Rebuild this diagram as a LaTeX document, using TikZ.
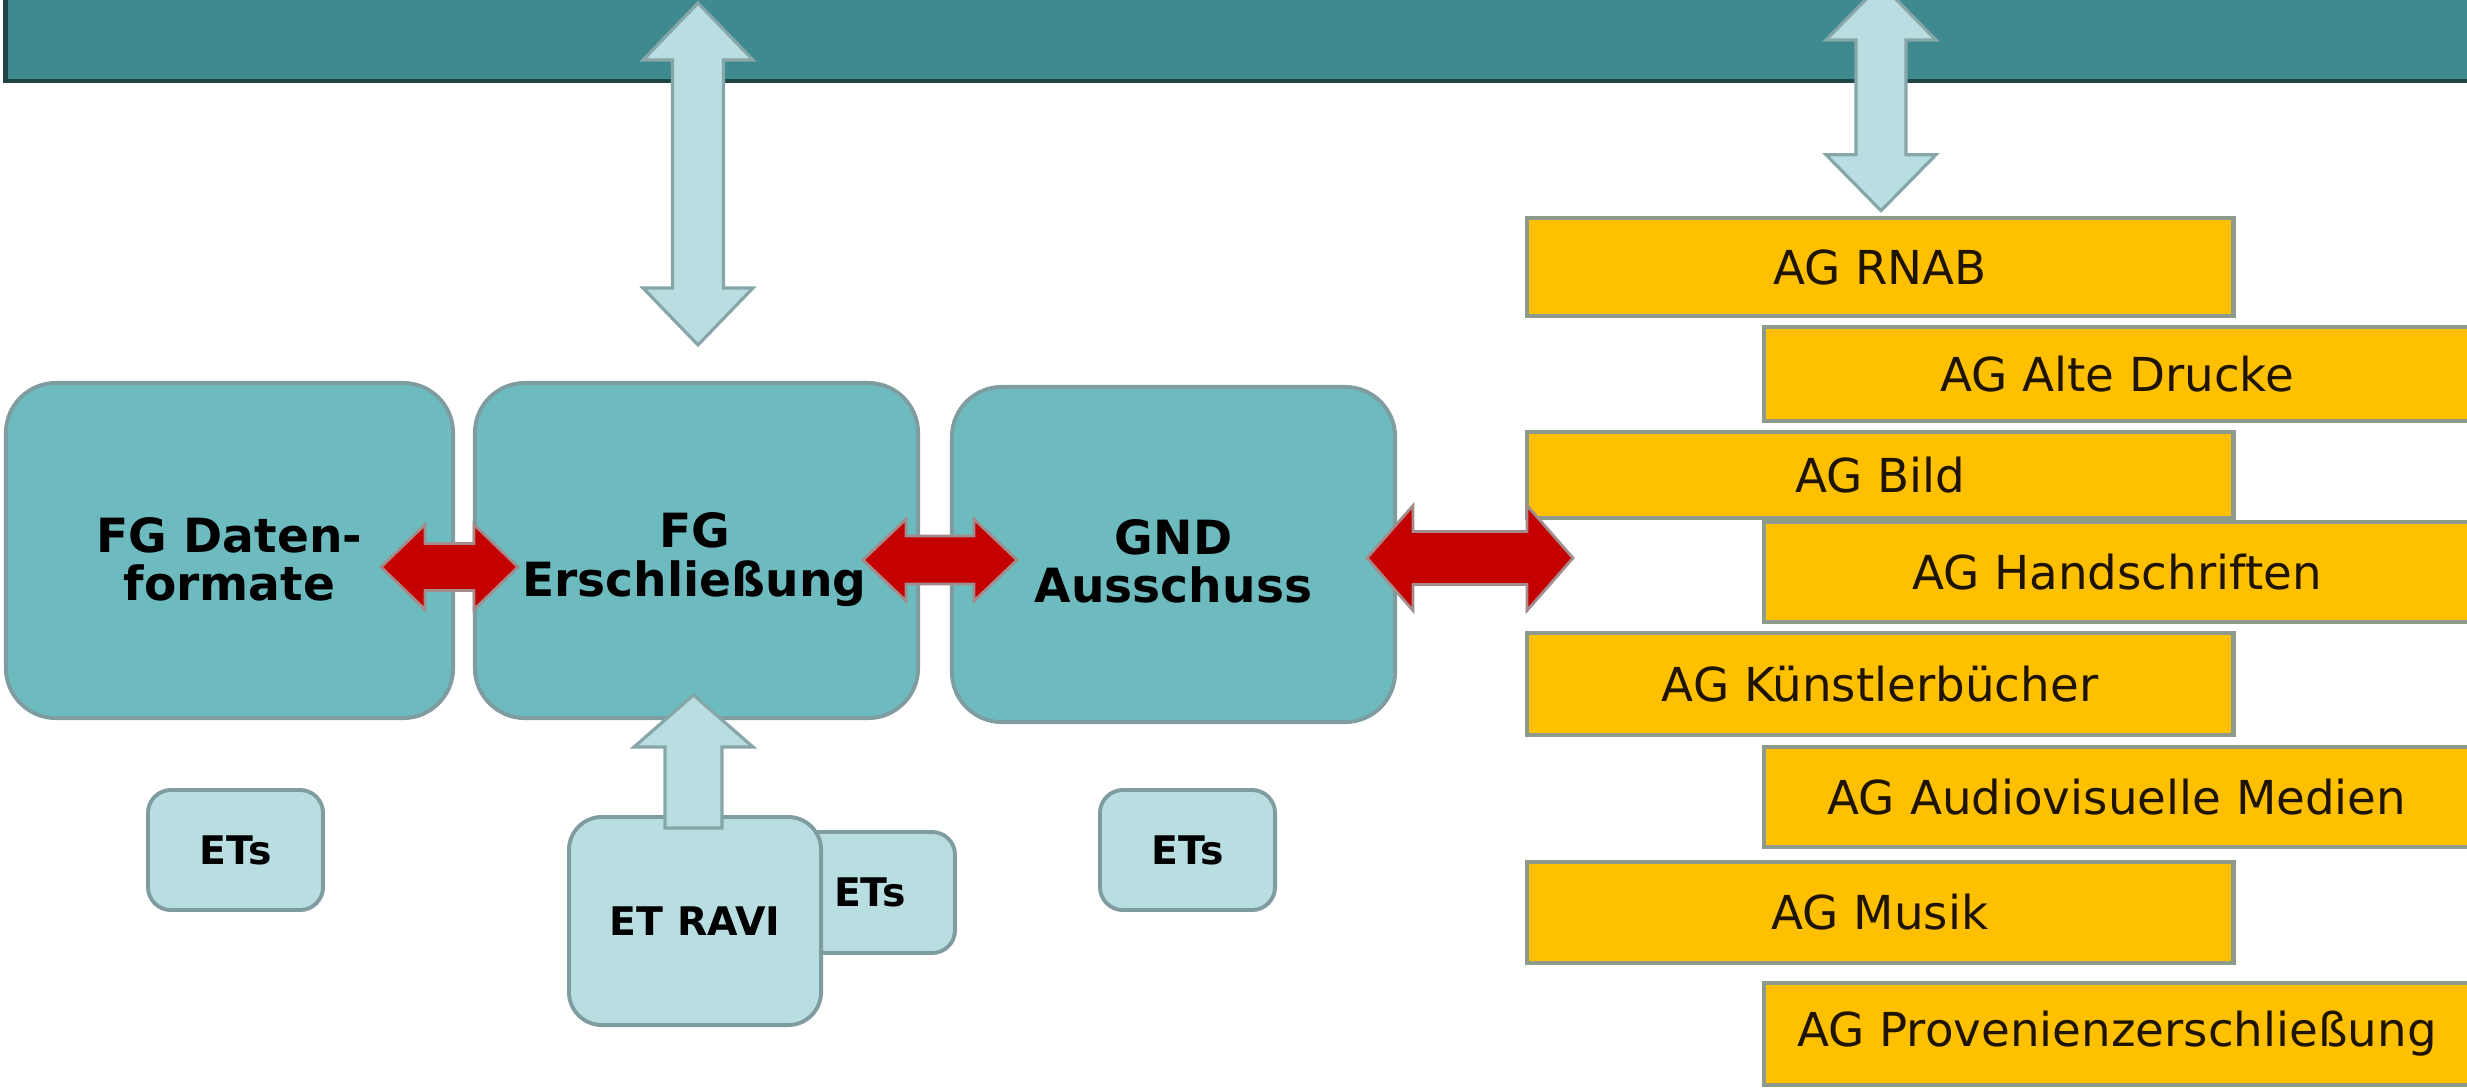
\documentclass[tikz,border=0pt]{standalone}
\usepackage{fontspec}
\setmainfont{DejaVu Sans}
\usetikzlibrary{calc}
\definecolor{bannerfill}{HTML}{3E8A8E}
\definecolor{banneredge}{HTML}{1F4547}
\definecolor{tealfill}{HTML}{6DBBBF}
\definecolor{boxline}{HTML}{7F9DA0}
\definecolor{lightblue}{HTML}{B9DEE2}
\definecolor{lightline}{HTML}{86A6A9}
\definecolor{agyellow}{HTML}{FFC000}
\definecolor{agline}{HTML}{8E9A8A}
\definecolor{agtext}{HTML}{1E1400}
\definecolor{arrred}{HTML}{C40000}
\definecolor{redline}{HTML}{A48C8C}
% horizontal double block arrow: style, left tip, right tip, shaft half, head half, head length
\newcommand\hdarrow[6]{\path[#1] (#2) -- ($(#2)+(#6,-#5)$) -- ($(#2)+(#6,-#4)$) -- ($(#3)+(-#6,-#4)$) -- ($(#3)+(-#6,-#5)$) -- (#3) -- ($(#3)+(-#6,#5)$) -- ($(#3)+(-#6,#4)$) -- ($(#2)+(#6,#4)$) -- ($(#2)+(#6,#5)$) -- cycle;}
% vertical double block arrow: style, top tip, bottom tip, shaft half, head half, head length
\newcommand\vdarrow[6]{\path[#1] (#2) -- ($(#2)+(#5,#6)$) -- ($(#2)+(#4,#6)$) -- ($(#3)+(#4,-#6)$) -- ($(#3)+(#5,-#6)$) -- (#3) -- ($(#3)+(-#5,-#6)$) -- ($(#3)+(-#4,-#6)$) -- ($(#2)+(-#4,#6)$) -- ($(#2)+(-#5,#6)$) -- cycle;}
% single upward block arrow: style, tip, foot, shaft half, head half, head length
\newcommand\upblockarrow[6]{\path[#1] (#2) -- ($(#2)+(#5,#6)$) -- ($(#2)+(#4,#6)$) -- ($(#3)+(#4,0)$) -- ($(#3)+(-#4,0)$) -- ($(#2)+(-#4,#6)$) -- ($(#2)+(-#5,#6)$) -- cycle;}
\begin{document}
\begin{tikzpicture}[x=0.01cm,y=-0.01cm,
  bannerbox/.style={draw=banneredge,line width=1.3pt,fill=bannerfill,inner sep=0pt},
  tealbox/.style={draw=boxline,line width=1.1pt,fill=tealfill,rounded corners=0.5cm,inner sep=0pt},
  tealtext/.style={align=center,inner sep=0pt,font=\fontsize{13.4}{13.8}\selectfont\bfseries},
  lbox/.style={draw=boxline,line width=1.1pt,fill=lightblue,rounded corners=0.23cm,inner sep=0pt,font=\fontsize{11.2}{13}\selectfont\bfseries},
  agbox/.style={draw=agline,line width=1.3pt,fill=agyellow,inner sep=0pt,text=agtext,minimum width=7.06cm,font=\fontsize{13.3}{15}\selectfont},
  redarrow/.style={fill=arrred,draw=redline,line width=0.8pt,line join=miter},
  bluearrow/.style={fill=lightblue,draw=lightline,line width=0.9pt}]
\useasboundingbox (0,0) rectangle (2467,1087);
\fill[white] (0,0) rectangle (2467,1087);

% banner
\node[bannerbox,minimum width=24.74cm,minimum height=0.91cm] (banner) at (1243,35.5) {};

% main boxes
\node[tealbox,minimum width=4.47cm,minimum height=3.35cm] (fgd) at (229.5,550.5) {};
\node[tealtext] (fgdtext) at ($(fgd.center)+(0,9)$) {FG Daten-\\formate};
\node[tealbox,minimum width=4.43cm,minimum height=3.35cm] (fge) at (696.5,550.5) {};
\node[tealtext] (fgetext) at ($(fge.center)+(-2,9)$) {FG\\Erschließung};
\node[tealbox,minimum width=4.43cm,minimum height=3.35cm] (gnd) at (1173.5,554.5) {};
\node[tealtext] (gndtext) at ($(gnd.center)+(0,7)$) {GND\\Ausschuss};

% ET boxes
\node[lbox,minimum width=1.75cm,minimum height=1.2cm] (ets1) at (235.5,850) {ETs};
\node[lbox,minimum width=1.75cm,minimum height=1.2cm] (ets3) at (1187.5,850) {ETs};
\node[lbox,minimum width=1.7cm,minimum height=1.21cm] (ets2) at (870,892.5) {ETs};
\node[lbox,minimum width=2.52cm,minimum height=2.08cm,rounded corners=0.33cm] (ravi) at (695,921) {ET RAVI};

% AG boxes
\node[agbox,minimum height=0.98cm] (rnab) at (1880,267) {AG RNAB};
\node[agbox,minimum height=0.94cm] (alte) at (2117,374) {AG Alte Drucke};
\node[agbox,minimum height=0.86cm] (bild) at (1880,475) {AG Bild};
\node[agbox,minimum height=1.0cm] (hand) at (2117,572) {AG Handschriften};
\node[agbox,minimum height=1.02cm] (kuen) at (1880,684) {AG Künstlerbücher};
\node[agbox,minimum height=1.0cm] (audio) at (2117,797) {AG Audiovisuelle Medien};
\node[agbox,minimum height=1.01cm] (musik) at (1880,912.5) {AG Musik};
\node[agbox,minimum height=1.02cm] (prov) at (2117,1034) {AG Provenienzerschließung};

% vertical double arrows banner <-> FG Erschliessung / AG column
\coordinate (v1t) at (698,3);
\coordinate (v1b) at ($(fge.north)+(1.5,-36)$);
\vdarrow{bluearrow}{v1t}{v1b}{25.5}{55}{57}
\coordinate (v2t) at (1881,-16);
\coordinate (v2b) at ($(rnab.north)+(1,-5)$);
\vdarrow{bluearrow}{v2t}{v2b}{25}{55}{56}

% ET RAVI -> FG Erschliessung
\coordinate (u1t) at (693.5,695);
\coordinate (u1b) at ($(ravi.north)+(-1.5,13)$);
\upblockarrow{bluearrow}{u1t}{u1b}{28.5}{59.5}{52}

% red double arrows
\coordinate (r1l) at (381,567);
\coordinate (r1r) at (518,567);
\hdarrow{redarrow}{r1l}{r1r}{23.5}{42.5}{44}
\coordinate (r2l) at (863,560);
\coordinate (r2r) at (1017,560);
\hdarrow{redarrow}{r2l}{r2r}{24}{41}{43}
\coordinate (r3l) at (1367,558);
\coordinate (r3r) at (1573,558);
\hdarrow{redarrow}{r3l}{r3r}{26.5}{52.5}{46}
\end{tikzpicture}
\end{document}
